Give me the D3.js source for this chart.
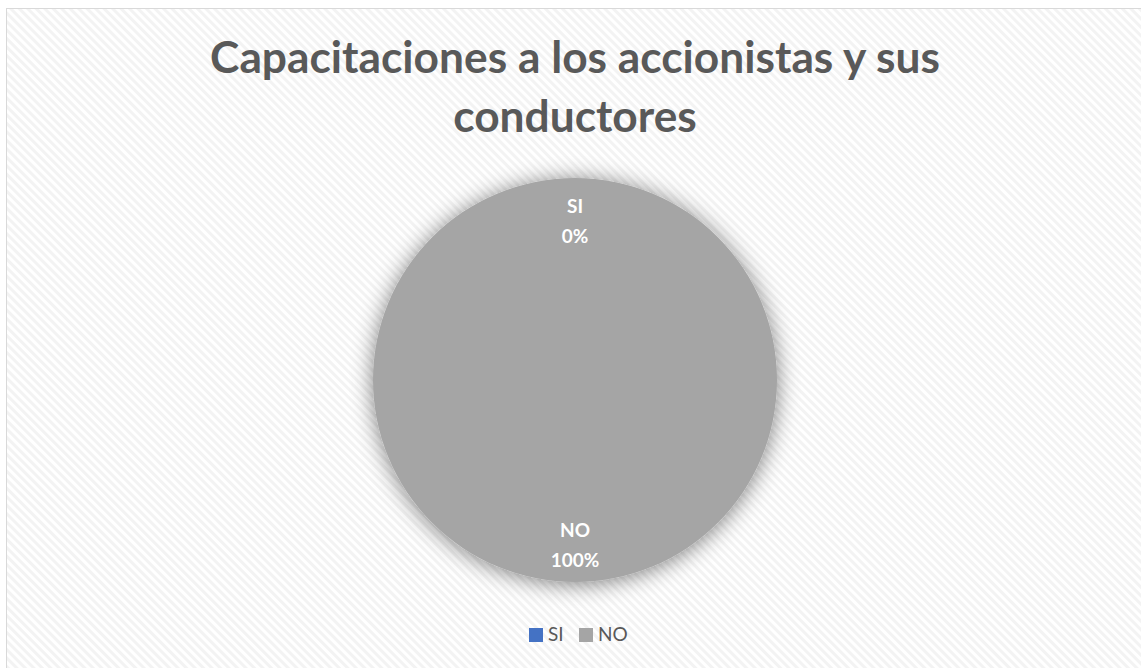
<!DOCTYPE html>
<html>
<head>
<meta charset="utf-8">
<script src="https://cdn.jsdelivr.net/npm/d3@7"></script>
<style>
  html, body { margin: 0; padding: 0; background: #fff; }
  svg { display: block; }
</style>
</head>
<body>
<svg id="chart" width="1141" height="668"></svg>
<script>
// Survey answers: training for shareholders and their drivers
const categories = ["SI", "NO"];
const values = [0, 100];
const colors = ["#4472C4", "#A5A5A5"];
const titleLines = ["Capacitaciones a los accionistas y sus", "conductores"];

const W = 1141, H = 668;
const svg = d3.select("#chart");
const defs = svg.append("defs");

// diagonal light-gray stripe texture for the chart area
const pat = defs.append("pattern")
  .attr("id", "stripes")
  .attr("patternUnits", "userSpaceOnUse")
  .attr("width", 6).attr("height", 6)
  .attr("patternTransform", "rotate(-45)");
pat.append("rect").attr("width", 6).attr("height", 6).attr("fill", "#ffffff");
pat.append("rect").attr("width", 3).attr("height", 6).attr("fill", "#f3f3f3");

// soft shadow under the pie
const f = defs.append("filter").attr("id", "glow")
  .attr("x", "-20%").attr("y", "-20%").attr("width", "140%").attr("height", "140%");
f.append("feGaussianBlur").attr("in", "SourceAlpha").attr("stdDeviation", 11).attr("result", "b");
f.append("feOffset").attr("in", "b").attr("dx", 0).attr("dy", 2).attr("result", "o");
f.append("feComponentTransfer").attr("in", "o").attr("result", "s")
  .append("feFuncA").attr("type", "linear").attr("slope", 0.5);
const fm = f.append("feMerge");
fm.append("feMergeNode").attr("in", "s");
fm.append("feMergeNode").attr("in", "SourceGraphic");

// chart area
svg.append("rect").attr("x", 0).attr("y", 0).attr("width", W).attr("height", H).attr("fill", "#fff");
svg.append("rect")
  .attr("x", 6.5).attr("y", 8.5).attr("width", W - 4).attr("height", H)
  .attr("fill", "url(#stripes)")
  .attr("stroke", "#d9d9d9").attr("stroke-width", 1);

// title
const titleFont = "Lato, 'Open Sans', sans-serif";
const title = svg.append("g").attr("fill", "#595959")
  .attr("font-family", titleFont).attr("font-weight", "bold").attr("text-anchor", "middle");
const t1 = title.append("text").attr("x", 575).attr("y", 73).attr("font-size", 40).text(titleLines[0]);
// scale font so the first line spans its intended width
const targetW = 730;
const fs = 40 * targetW / t1.node().getComputedTextLength();
t1.attr("font-size", fs);
title.append("text").attr("x", 575).attr("y", 132).attr("font-size", fs).text(titleLines[1]);

// pie
const cx = 575, cy = 380, r = 202;
const pie = d3.pie().sort(null).value(d => d)(values);
const arc = d3.arc().innerRadius(0).outerRadius(r);
const color = d3.scaleOrdinal().domain(categories).range(colors);
const total = d3.sum(values);

const g = svg.append("g").attr("transform", `translate(${cx},${cy})`);
g.append("g").attr("filter", "url(#glow)")
  .selectAll("path").data(pie).join("path")
  .attr("d", arc)
  .attr("fill", (d, i) => color(categories[i]));

// data labels (category + percent) near the outer edge
const labelArc = d3.arc().innerRadius(r * 0.8).outerRadius(r * 0.8);
const lab = g.selectAll("g.lab").data(pie).join("g")
  .attr("class", "lab")
  .attr("transform", d => `translate(${labelArc.centroid(d)})`)
  .attr("font-family", titleFont).attr("font-weight", "bold")
  .attr("font-size", 19).attr("fill", "#ffffff").attr("text-anchor", "middle");
lab.append("text").attr("y", -5).text((d, i) => categories[i]);
lab.append("text").attr("y", 25).text(d => d3.format(".0%")(d.value / total));

// legend
const legend = svg.append("g").attr("font-family", titleFont).attr("font-size", 19).attr("fill", "#595959");
const lx = [529, 579];
categories.forEach((c, i) => {
  const it = legend.append("g").attr("transform", `translate(${lx[i]},628)`);
  it.append("rect").attr("width", 14).attr("height", 14).attr("fill", colors[i]);
  it.append("text").attr("x", 19).attr("y", 13).text(c);
});
</script>
</body>
</html>
